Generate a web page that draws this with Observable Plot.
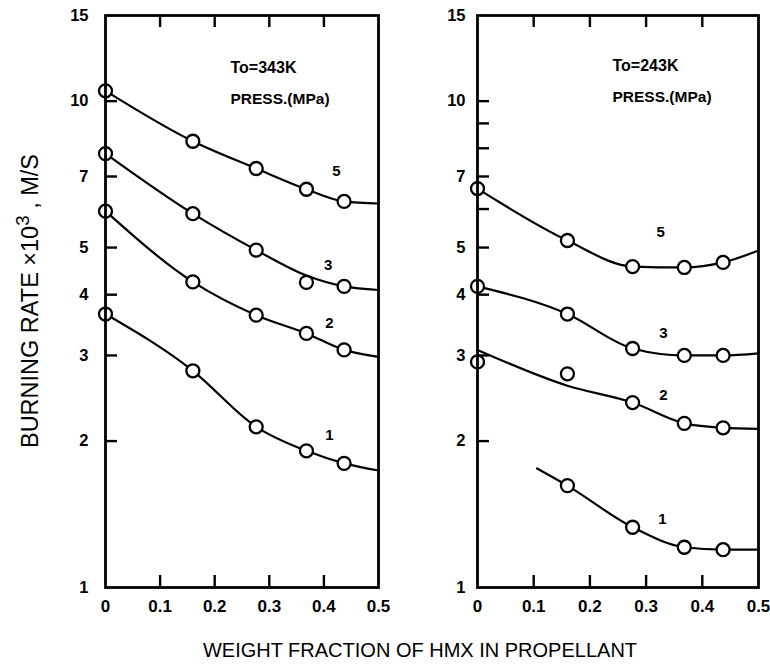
<!DOCTYPE html>
<html><head><meta charset="utf-8">
<script src="https://cdn.jsdelivr.net/npm/d3@7"></script>
<script src="https://cdn.jsdelivr.net/npm/@observablehq/plot@0.6"></script>
<style>
body{margin:0;background:#fff;}
#wrap{position:relative;width:770px;height:668px;font-family:"Liberation Sans",Arial,sans-serif;color:#000;background:#fff;}
#left{position:absolute;left:0;top:0;z-index:2}
#right{position:absolute;left:380px;top:0;z-index:1}
#ylab{position:absolute;left:30px;top:301px;transform:translate(-50%,-50%) rotate(-90deg);font-size:23.5px;white-space:nowrap;}
#ylab sup{font-size:0.8em;line-height:0;}
#xlab{position:absolute;left:420px;top:650px;transform:translate(-50%,-50%);font-size:20px;white-space:nowrap;}
</style></head>
<body>
<div id="wrap">
  <div id="left"></div>
  <div id="right"></div>
  <div id="ylab">BURNING RATE ×10<sup>3</sup> , M/S</div>
  <div id="xlab">WEIGHT FRACTION OF HMX IN PROPELLANT</div>
</div>
<script>
// ---- data ----
const hmxFraction = [0, 0.16, 0.276, 0.368, 0.437];
const pressureLabels = ["5", "3", "2", "1"];
const xTicks = [0, 0.1, 0.2, 0.3, 0.4, 0.5];
const xTickLabels = ["0", "0.1", "0.2", "0.3", "0.4", "0.5"];
const xInnerTicks = [0.1, 0.2, 0.3, 0.4];
const yLabelTicks = [1, 2, 3, 4, 5, 7, 10, 15];
const hotYTickMarks = [2, 3, 4, 5, 7, 10];
const coldYTickMarks = [2, 3, 4, 5, 6, 7, 8, 9, 10];

// Left panel: To = 343 K, measured points (press. 5, 3, 2, 1 MPa)
const hot5 = [10.5, 8.27, 7.27, 6.59, 6.22];
const hot3 = [7.80, 5.87, 4.94, 4.24, 4.16];
const hot2 = [5.94, 4.25, 3.63, 3.33, 3.08];
const hot1 = [3.65, 2.79, 2.14, 1.91, 1.80];
// Left panel fitted curves
const fitX = [0, 0.16, 0.276, 0.368, 0.437, 0.5];
const hotFit5 = [10.5, 8.27, 7.27, 6.59, 6.22, 6.16];
const hotFit3 = [7.80, 5.87, 4.94, 4.38, 4.16, 4.09];
const hotFit2 = [5.94, 4.25, 3.63, 3.33, 3.08, 2.98];
const hotFit1 = [3.65, 2.79, 2.14, 1.91, 1.80, 1.74];
const hotLabelX = [0.423, 0.408, 0.41, 0.41];
const hotLabelY = [7.17, 4.61, 3.49, 2.06];

// Right panel: To = 243 K, measured points
const cold5 = [6.61, 5.17, 4.57, 4.55, 4.66];
const cold3 = [4.16, 3.65, 3.10, 3.00, 3.00];
const cold2 = [2.91, 2.75, 2.40, 2.175, 2.13];
const cold1 = [null, 1.62, 1.33, 1.21, 1.196];
// Right panel fitted curves
const coldFit5 = [6.61, 5.17, 4.57, 4.55, 4.66, 4.93];
const coldFit3 = [4.16, 3.65, 3.10, 3.00, 3.00, 3.03];
const coldFit2 = [3.08, 2.60, 2.40, 2.175, 2.13, 2.12];
const coldFit1X = [0.106, 0.16, 0.276, 0.368, 0.437, 0.5];
const coldFit1 = [1.757, 1.62, 1.33, 1.21, 1.196, 1.196];
const coldLabelX = [0.326, 0.331, 0.331, 0.329];
const coldLabelY = [5.37, 3.34, 2.49, 1.385];

// ---- build tables ----
function pointsTable(series) {
  const out = [];
  series.forEach((vals, s) => vals.forEach((v, i) => {
    if (v != null) out.push({p: pressureLabels[s], x: hmxFraction[i], y: v});
  }));
  return out;
}
function fitTable(series, xs) {
  const out = [];
  series.forEach((vals, s) => vals.forEach((v, i) => out.push({p: pressureLabels[s], x: xs[s][i], y: v})));
  return out;
}
function labelTable(xs, ys) {
  return pressureLabels.map((p, i) => ({p, x: xs[i], y: ys[i]}));
}

const FONT = "'Liberation Sans', Arial, sans-serif";

function panel({pts, fits, labels, header, yTickMarks, yPad, marginLeft, headerDx, headerDy}) {
  const W = 390, H = 625, mr = 12, mt = 15, mb = 38;
  const fw = W - marginLeft - mr, fh = H - mt - mb;
  const yTick = 12;
  return Plot.plot({
    width: W, height: H,
    marginLeft, marginRight: mr, marginTop: mt, marginBottom: mb,
    x: {domain: [0, 0.5]},
    y: {type: "log", domain: [1, 15]},
    style: {fontFamily: FONT, fontSize: "17px", fontWeight: "bold", background: "transparent", color: "black", overflow: "visible"},
    marks: [
      Plot.axisX({ticks: xTicks, tickSize: 0, tickPadding: 12, tickFormat: (d, i) => xTickLabels[i], fontSize: 17, fontWeight: "bold", label: null}),
      Plot.axisY({ticks: yLabelTicks, tickSize: 0, tickPadding: yPad, tickFormat: d => String(d), fontSize: 16.5, fontWeight: "bold", label: null}),
      Plot.tickY(yTickMarks, {y: d => d, insetRight: fw - yTick, strokeWidth: 2.4}),
      Plot.tickX(xInnerTicks, {x: d => d, insetBottom: fh - 12, strokeWidth: 2.4}),
      Plot.tickX(xInnerTicks, {x: d => d, insetTop: fh - 12, strokeWidth: 2.4}),
      Plot.line(fits, {x: "x", y: "y", z: "p", curve: "monotone-x", stroke: "black", strokeWidth: 2.2}),
      Plot.dot(pts, {x: "x", y: "y", r: 6.5, fill: "white", stroke: "black", strokeWidth: 2.3}),
      Plot.text(labels, {x: "x", y: "y", text: "p", fontSize: 15, fontWeight: "bold"}),
      Plot.text([header], {frameAnchor: "top-left", dx: headerDx, dy: headerDy, textAnchor: "start", lineAnchor: "middle", fontSize: 16, fontWeight: "bold"}),
      Plot.text(["PRESS.(MPa)"], {frameAnchor: "top-left", dx: headerDx, dy: headerDy + 32, textAnchor: "start", lineAnchor: "middle", fontSize: 15.5, fontWeight: "bold"}),
      Plot.frame({stroke: "black", strokeWidth: 2.8})
    ]
  });
}

document.getElementById("left").append(panel({
  pts: pointsTable([hot5, hot3, hot2, hot1]),
  fits: fitTable([hotFit5, hotFit3, hotFit2, hotFit1], [fitX, fitX, fitX, fitX]),
  labels: labelTable(hotLabelX, hotLabelY),
  header: "To=343K", yTickMarks: hotYTickMarks, yPad: 17, marginLeft: 105,
  headerDx: 125, headerDy: 52
}));
document.getElementById("right").append(panel({
  pts: pointsTable([cold5, cold3, cold2, cold1]),
  fits: fitTable([coldFit5, coldFit3, coldFit2, coldFit1], [fitX, fitX, fitX, coldFit1X]),
  labels: labelTable(coldLabelX, coldLabelY),
  header: "To=243K", yTickMarks: coldYTickMarks, yPad: 12, marginLeft: 97,
  headerDx: 135, headerDy: 50
}));
</script>
</body></html>
